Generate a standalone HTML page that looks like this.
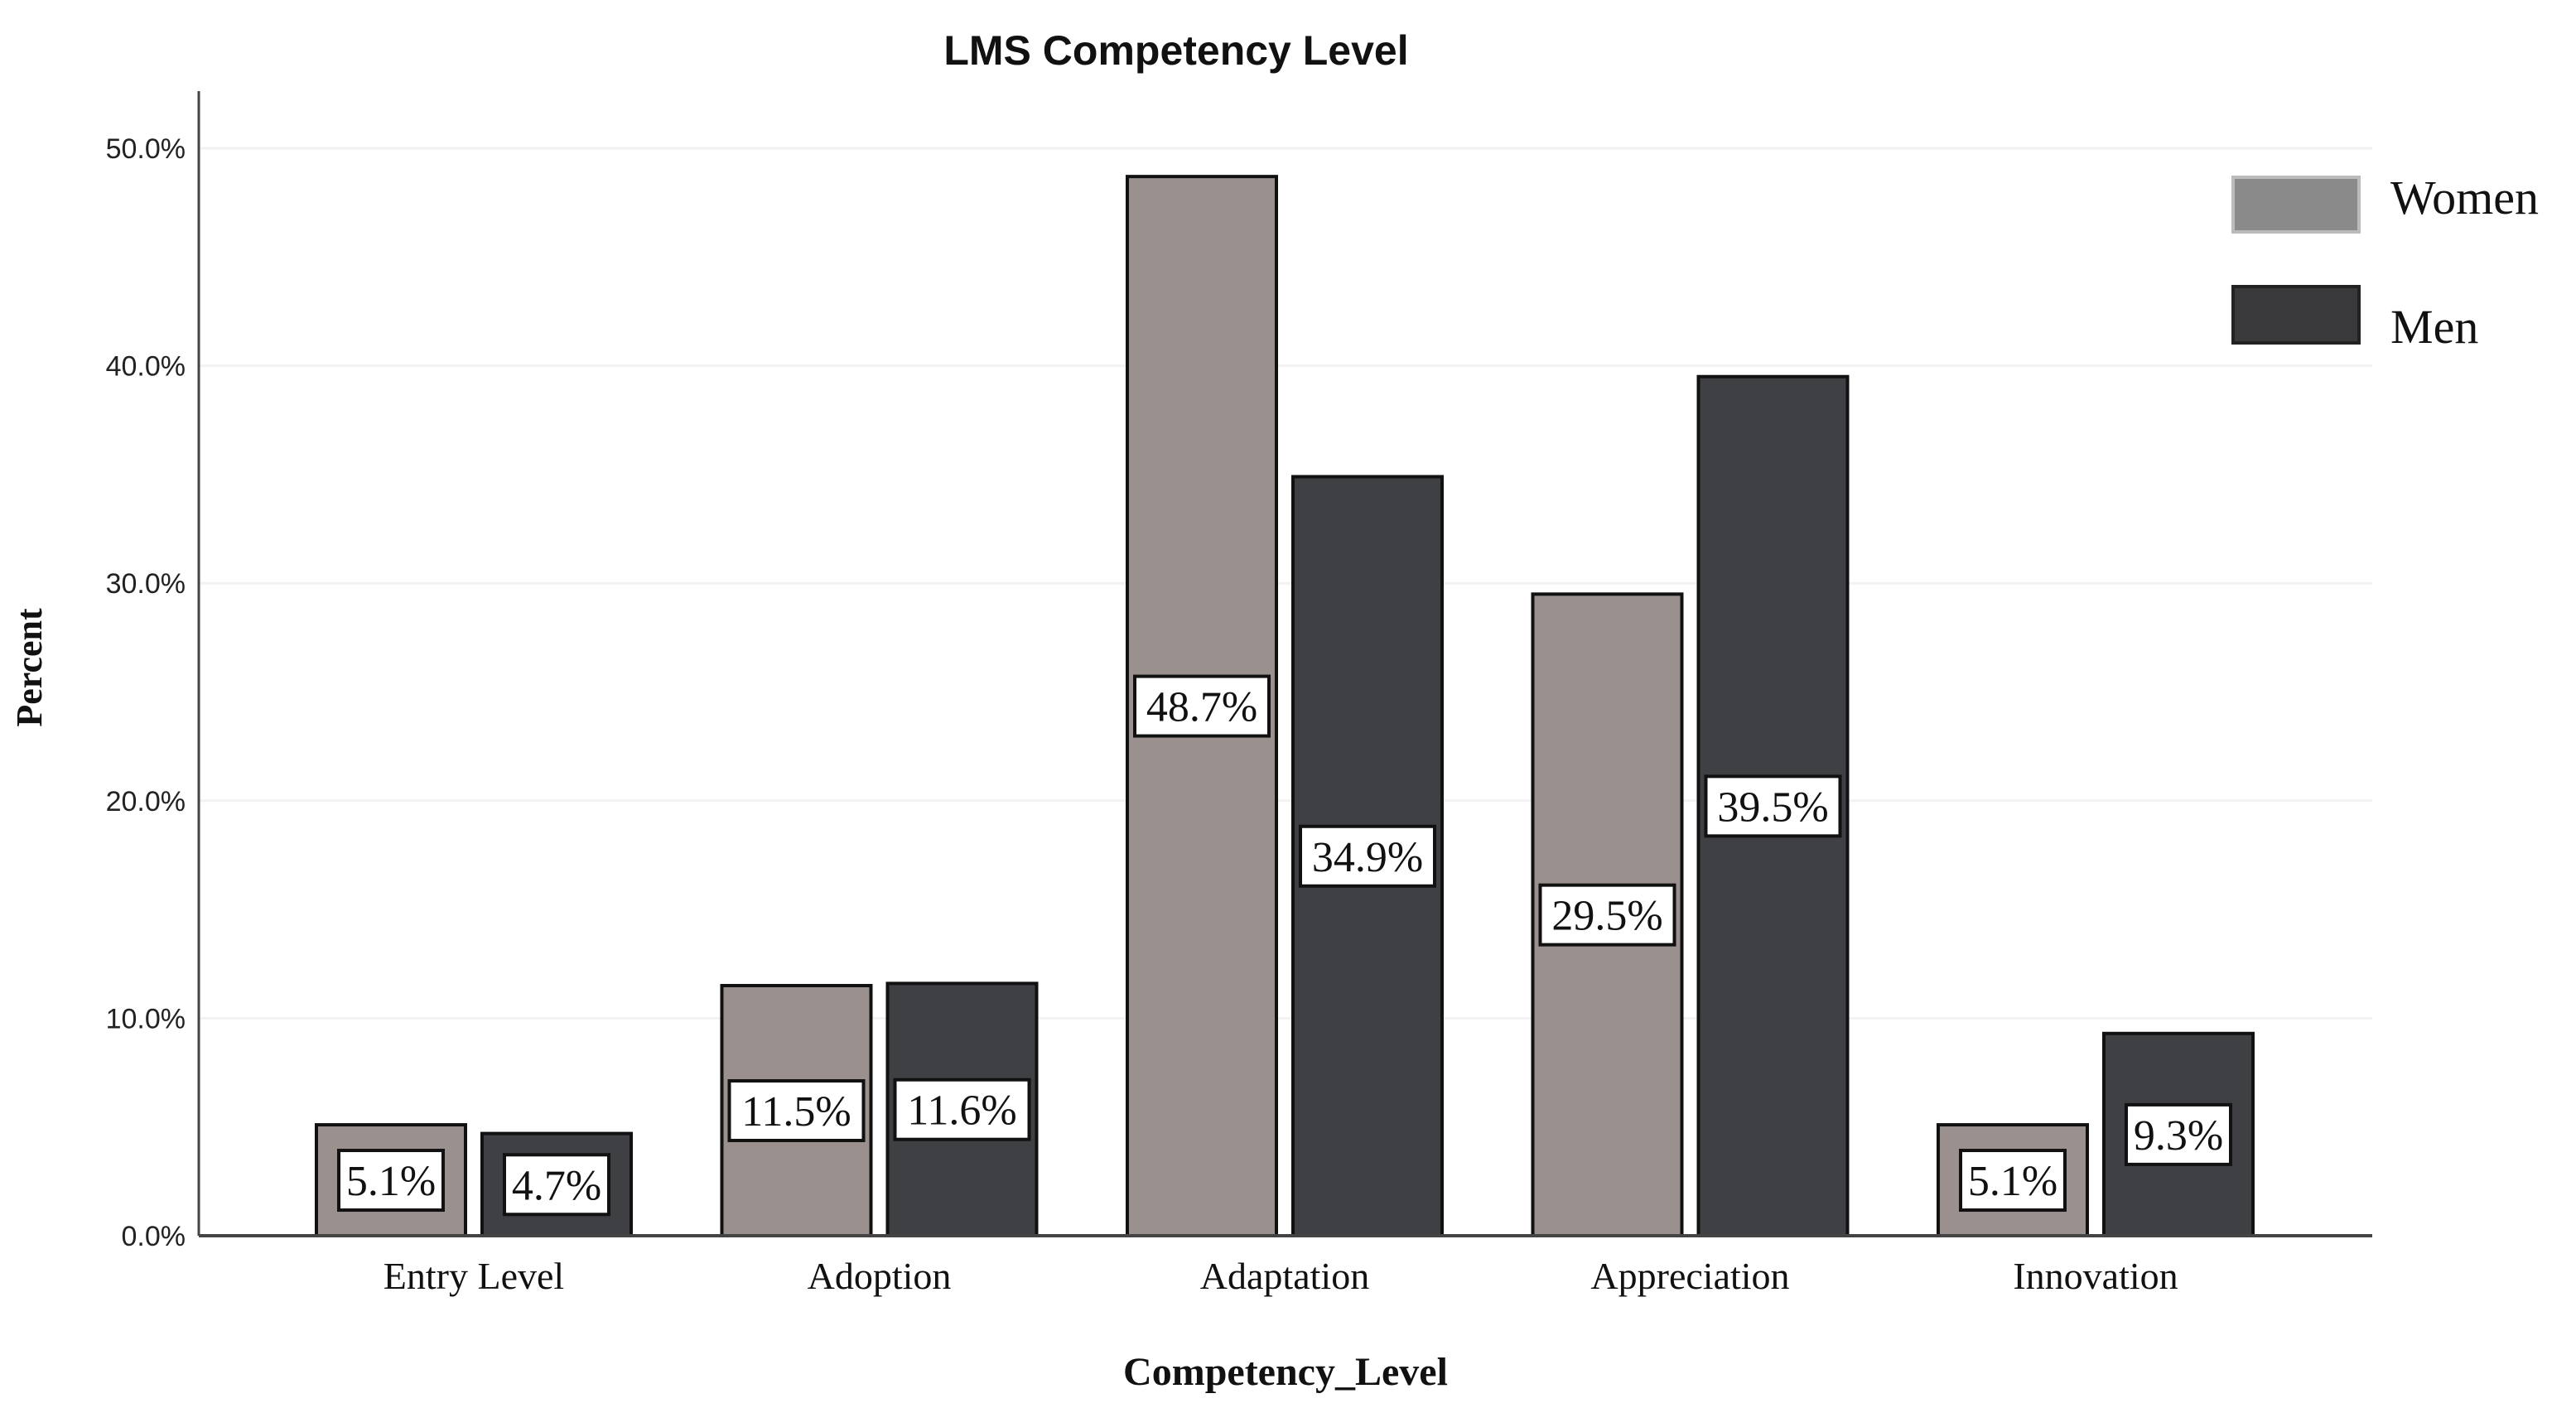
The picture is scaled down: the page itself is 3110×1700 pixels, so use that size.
<!DOCTYPE html>
<html><head><meta charset="utf-8"><style>
html,body{margin:0;padding:0;background:#fff;width:3110px;height:1700px;overflow:hidden}
</style></head><body>
<svg id="chart" width="3110" height="1700" xmlns="http://www.w3.org/2000/svg">
<text x="1420" y="78" text-anchor="middle" font-family="Liberation Sans, sans-serif" font-weight="bold" font-size="50" fill="#111">LMS Competency Level</text>
<text transform="translate(50,806) rotate(-90)" text-anchor="middle" font-family="Liberation Serif, serif" font-weight="bold" font-size="44" fill="#111">Percent</text>
<text x="1552" y="1672" text-anchor="middle" font-family="Liberation Serif, serif" font-weight="bold" font-size="48" fill="#111">Competency_Level</text>
<g>
<rect x="2696" y="214" width="152" height="66" fill="#8a8a8a" stroke="#bbb" stroke-width="4"/>
<text x="2886" y="258" font-family="Liberation Serif, serif" font-size="58" fill="#111">Women</text>
<rect x="2696" y="346" width="152" height="68" fill="#3a3a3c" stroke="#222" stroke-width="4"/>
<text x="2886" y="414" font-family="Liberation Serif, serif" font-size="58" fill="#111">Men</text>
</g>
<g id="grid"></g><g id="bars"></g><g id="axes"></g>
</svg>
<script>
const categories = ["Entry Level","Adoption","Adaptation","Appreciation","Innovation"];
const women = [5.1, 11.5, 48.7, 29.5, 5.1];
const men = [4.7, 11.6, 34.9, 39.5, 9.3];
const yTicks = [0,10,20,30,40,50];
const yTickLabels = ["0.0%","10.0%","20.0%","30.0%","40.0%","50.0%"];

const NS="http://www.w3.org/2000/svg";
const x0=240, x1=2864, yBase=1492, pxPer=262.6;
const y=v=>yBase - v*pxPer/10;
const cx=i=>572 + i*489.5;
function mk(tag, attrs, parent){const e=document.createElementNS(NS,tag);for(const k in attrs)e.setAttribute(k,attrs[k]);parent.appendChild(e);return e;}
const grid=document.getElementById('grid'), bars=document.getElementById('bars'), axes=document.getElementById('axes');
yTicks.forEach((t,i)=>{
  if(t>0){const g=mk('line',{x1:x0,x2:x1,y1:y(t),y2:y(t),stroke:'#f2f2f2','stroke-width':3},grid);
  
  }
  const l=mk('text',{x:224,y:y(t)+12,'text-anchor':'end','font-family':'Liberation Sans, sans-serif','font-size':34,fill:'#222'},axes);
  l.textContent=yTickLabels[i];
  
  
});
function bar(i,v,left,color,name){
  const r=mk('rect',{x:left,y:y(v),width:180,height:yBase-y(v),fill:color,stroke:'#111','stroke-width':4},bars);
  
  
  const mid=(y(v)+yBase)/2, txt=v.toFixed(1)+'%', w=txt.length>4?162:126;
  const b=mk('rect',{x:left+90-w/2,y:mid-36,width:w,height:72,fill:'#fff',stroke:'#111','stroke-width':4},bars);
  
  
  const t=mk('text',{x:left+90,y:mid+18,'text-anchor':'middle','font-family':'Liberation Serif, serif','font-size':52,fill:'#111'},bars);
  t.textContent=txt;
  
  
}
categories.forEach((c,i)=>{
  bar(i,women[i],cx(i)-190,'#9a918f','bar-women');
  bar(i,men[i],cx(i)+10,'#3f4043','bar-men');
  const t=mk('text',{x:cx(i),y:1556,'text-anchor':'middle','font-family':'Liberation Serif, serif','font-size':46,fill:'#111'},axes);
  t.textContent=c;
  
  
});
const ya=mk('line',{x1:x0,x2:x0,y1:110,y2:yBase,stroke:'#444','stroke-width':3},axes);


const xa=mk('line',{x1:x0,x2:x1,y1:yBase,y2:yBase,stroke:'#444','stroke-width':4},axes);


</script>
</body></html>
